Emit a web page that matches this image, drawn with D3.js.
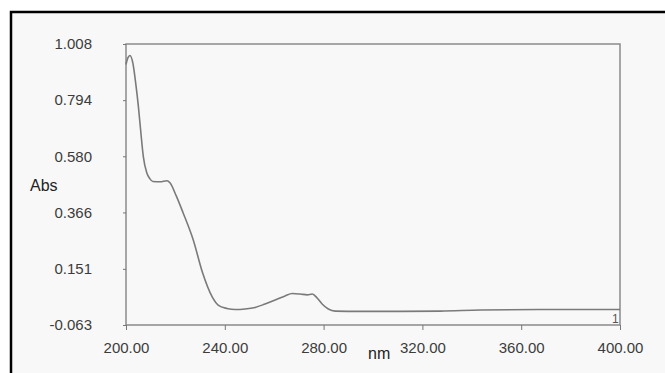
<!DOCTYPE html>
<html>
<head>
<meta charset="utf-8">
<script src="https://cdn.jsdelivr.net/npm/d3@7"></script>
<style>
  body { margin: 0; background: #fff; }
  svg text { font-family: "Liberation Sans", Arial, sans-serif; }
</style>
</head>
<body>
<svg id="spec" width="665" height="373"></svg>
<script>
// spectrum readings (wavelength nm, absorbance)
var wavelengths = [200, 200.8, 201.6, 202.8, 204, 205, 206.1, 207, 208.4, 209.7, 210.9, 213.8, 216.6, 217.8,
  220.3, 223.1, 227.2, 231, 234.9, 237.3, 240.9, 244.2, 248.2, 252.3, 256.3, 260.4, 264.4, 267.3,
  270.5, 273.4, 275.4, 277.4, 279.4, 281.9, 284.7, 294.8, 311, 327.3, 343.5, 367.8, 400];
var absorbance = [0.930, 0.956, 0.964, 0.934, 0.853, 0.771, 0.662, 0.580, 0.517, 0.494, 0.484, 0.483, 0.487, 0.479,
  0.430, 0.365, 0.262, 0.136, 0.044, 0.013, 0.000, -0.004, -0.002, 0.004, 0.017, 0.032, 0.048, 0.057,
  0.055, 0.052, 0.055, 0.040, 0.017, -0.002, -0.010, -0.011, -0.011, -0.010, -0.006, -0.004, -0.004];
var yTicks = [-0.063, 0.151, 0.366, 0.580, 0.794, 1.008];
var xTicks = [200, 240, 280, 320, 360, 400];

var svg = d3.select("svg#spec");

// outer panel with the black frame (runs off right and bottom)
svg.append("rect")
  .attr("x", 11).attr("y", 12)
  .attr("width", 670).attr("height", 380)
  .attr("fill", "#f8f8f8")
  .attr("stroke", "#000")
  .attr("stroke-width", 2.5);

var plotL = 126, plotR = 620, plotT = 44, plotB = 325;

var x = d3.scaleLinear().domain([200, 400]).range([plotL, plotR]);
var y = d3.scaleLinear().domain([-0.063, 1.008]).range([plotB, plotT]);

// plot box
svg.append("rect")
  .attr("x", plotL).attr("y", plotT)
  .attr("width", plotR - plotL).attr("height", plotB - plotT)
  .attr("fill", "none")
  .attr("stroke", "#8a8a8a")
  .attr("stroke-width", 1.5);

// y axis (plain hyphen for the minus, like the instrument software)
var yAxis = svg.append("g")
  .attr("transform", "translate(" + plotL + ",0)")
  .call(d3.axisLeft(y).tickValues(yTicks).tickSize(3).tickPadding(31)
    .tickFormat(function(d) { return d3.format(".3f")(d).replace("\u2212", "-"); }));
yAxis.select(".domain").remove();
yAxis.selectAll("line").attr("stroke", "#777");
yAxis.selectAll("text").attr("fill", "#3c3c3c").style("font-size", "15px");

// x axis
var xAxis = svg.append("g")
  .attr("transform", "translate(0," + plotB + ")")
  .call(d3.axisBottom(x).tickValues(xTicks).tickSize(5).tickPadding(12)
    .tickFormat(d3.format(".2f")));
xAxis.select(".domain").remove();
xAxis.selectAll("line").attr("stroke", "#777");
xAxis.selectAll("text").attr("fill", "#3c3c3c").style("font-size", "15px");

// axis titles
svg.append("text")
  .attr("x", 30).attr("y", 191)
  .attr("fill", "#222")
  .style("font-size", "16px")
  .text("Abs");

svg.append("text")
  .attr("x", 368).attr("y", 359)
  .attr("fill", "#222")
  .style("font-size", "16px")
  .text("nm");

// the spectrum
var line = d3.line()
  .x(function(d, i) { return x(wavelengths[i]); })
  .y(function(d) { return y(d); })
  .curve(d3.curveMonotoneX);

svg.append("path")
  .datum(absorbance)
  .attr("d", line)
  .attr("fill", "none")
  .attr("stroke", "#7a7a7a")
  .attr("stroke-width", 1.6);

// trace number at the end of the curve
svg.append("text")
  .attr("x", x(400) - 8).attr("y", y(-0.004) + 13)
  .attr("fill", "#555")
  .style("font-size", "12px")
  .text("1");
</script>
</body>
</html>
